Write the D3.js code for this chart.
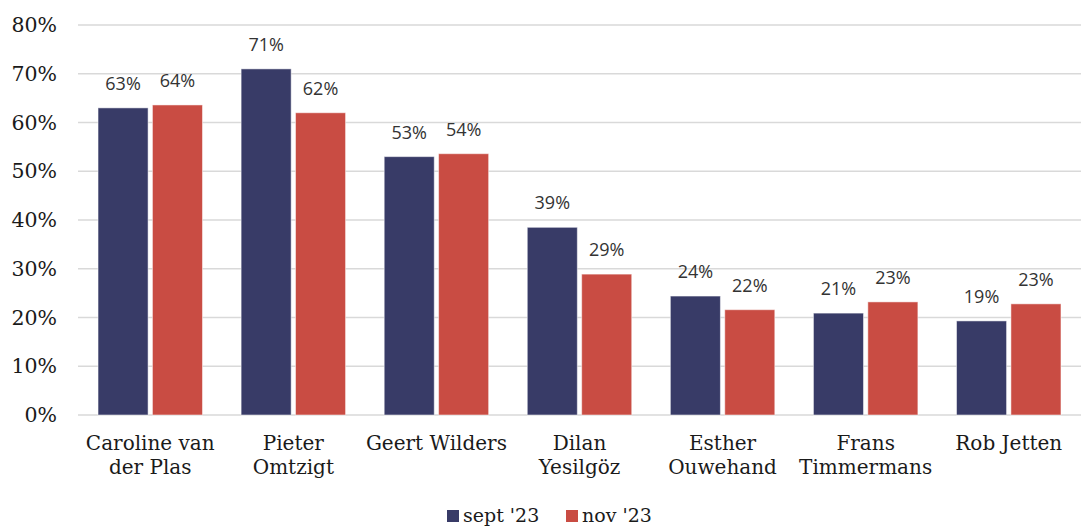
<!DOCTYPE html>
<html>
<head>
<meta charset="utf-8">
<script src="https://cdn.jsdelivr.net/npm/d3@7"></script>
<style>
  body { margin: 0; background: #fff; }
  #chart { width: 1081px; height: 527px; }
</style>
</head>
<body>
<div id="chart"></div>
<script>
// chart data
var categories = [["Caroline van", "der Plas"], ["Pieter", "Omtzigt"], ["Geert Wilders"],
    ["Dilan", "Yesilgöz"], ["Esther", "Ouwehand"], ["Frans", "Timmermans"], ["Rob Jetten"]];
var seriesNames = ["sept '23", "nov '23"];
var septValues = [63, 71, 53, 38.5, 24.4, 20.9, 19.3];
var novValues = [63.6, 62, 53.6, 28.9, 21.6, 23.2, 22.8];
var yTicks = [0, 10, 20, 30, 40, 50, 60, 70, 80];
var colors = ["#383b67", "#c94c43"];

var W = 1081, H = 527;
var margin = {left: 78, right: 0, top: 25, bottom: 112};

var svg = d3.select("#chart").append("svg")
    .attr("width", W)
    .attr("height", H);

var serif = "'DejaVu Serif', 'Liberation Serif', serif";
var sans = "'Open Sans', 'Noto Sans', sans-serif";

var keys = categories.map(function(c) { return c.join(" "); });

var x0 = d3.scaleBand()
    .domain(keys)
    .range([margin.left, W - margin.right])
    .paddingInner(0.27)
    .paddingOuter(0.14);

var x1 = d3.scaleBand()
    .domain(seriesNames)
    .range([0, x0.bandwidth()])
    .paddingInner(0.08);

var y = d3.scaleLinear()
    .domain([0, 80])
    .range([H - margin.bottom, margin.top]);

// gridlines
svg.append("g").selectAll("line")
    .data(yTicks)
    .enter().append("line")
    .attr("x1", margin.left)
    .attr("x2", W - margin.right)
    .attr("y1", function(d) { return y(d); })
    .attr("y2", function(d) { return y(d); })
    .attr("stroke", "#d9d9d9")
    .attr("stroke-width", 1.5);

// y axis labels
var yAxis = d3.axisLeft(y)
    .tickValues(yTicks)
    .tickSize(0)
    .tickPadding(0)
    .tickFormat(function(d) { return d + "%"; });

var yg = svg.append("g")
    .attr("transform", "translate(57,0)")
    .call(yAxis);
yg.select(".domain").remove();
yg.selectAll("text")
    .attr("font-family", serif)
    .attr("font-size", 20.5)
    .attr("fill", "#1a1a1a");

// bars
var rows = keys.map(function(k, i) {
    return {key: k, vals: [septValues[i], novValues[i]]};
});

var groups = svg.append("g").selectAll("g")
    .data(rows)
    .enter().append("g")
    .attr("transform", function(d) { return "translate(" + x0(d.key) + ",0)"; });

groups.selectAll("rect")
    .data(function(d) { return d.vals.map(function(v, j) { return {s: seriesNames[j], v: v, j: j}; }); })
    .enter().append("rect")
    .attr("x", function(d) { return x1(d.s); })
    .attr("width", x1.bandwidth())
    .attr("y", function(d) { return y(d.v); })
    .attr("height", function(d) { return y(0) - y(d.v); })
    .attr("fill", function(d) { return colors[d.j]; })
    .attr("stroke", "#ffffff")
    .attr("stroke-opacity", 0.5)
    .attr("stroke-width", 1);

groups.selectAll("text.lbl")
    .data(function(d) { return d.vals.map(function(v, j) { return {s: seriesNames[j], v: v}; }); })
    .enter().append("text")
    .attr("class", "lbl")
    .attr("x", function(d) { return x1(d.s) + x1.bandwidth() / 2; })
    .attr("y", function(d) { return y(d.v) - 18; })
    .attr("text-anchor", "middle")
    .attr("font-family", sans)
    .attr("font-size", 18)
    .attr("fill", "#333")
    .text(function(d) { return Math.round(d.v) + "%"; });

// category labels
var cat = svg.append("g").selectAll("text")
    .data(categories)
    .enter().append("text")
    .attr("x", function(d, i) { return x0(keys[i]) + x0.bandwidth() / 2; })
    .attr("y", 450)
    .attr("text-anchor", "middle")
    .attr("font-family", serif)
    .attr("font-size", 20)
    .attr("fill", "#1a1a1a");

cat.selectAll("tspan")
    .data(function(d) { return d; })
    .enter().append("tspan")
    .attr("x", function() { return d3.select(this.parentNode).attr("x"); })
    .attr("dy", function(d, i) { return i === 0 ? 0 : 24; })
    .text(function(d) { return d; });

// legend
var legend = svg.append("g");
var legendX = [447, 566];
seriesNames.forEach(function(s, i) {
    legend.append("rect")
        .attr("x", legendX[i])
        .attr("y", 510)
        .attr("width", 12)
        .attr("height", 12)
        .attr("fill", colors[i]);
    legend.append("text")
        .attr("x", legendX[i] + 16)
        .attr("y", 522)
        .attr("font-family", serif)
        .attr("font-size", 19)
        .attr("fill", "#1a1a1a")
        .text(s);
});
</script>
</body>
</html>
